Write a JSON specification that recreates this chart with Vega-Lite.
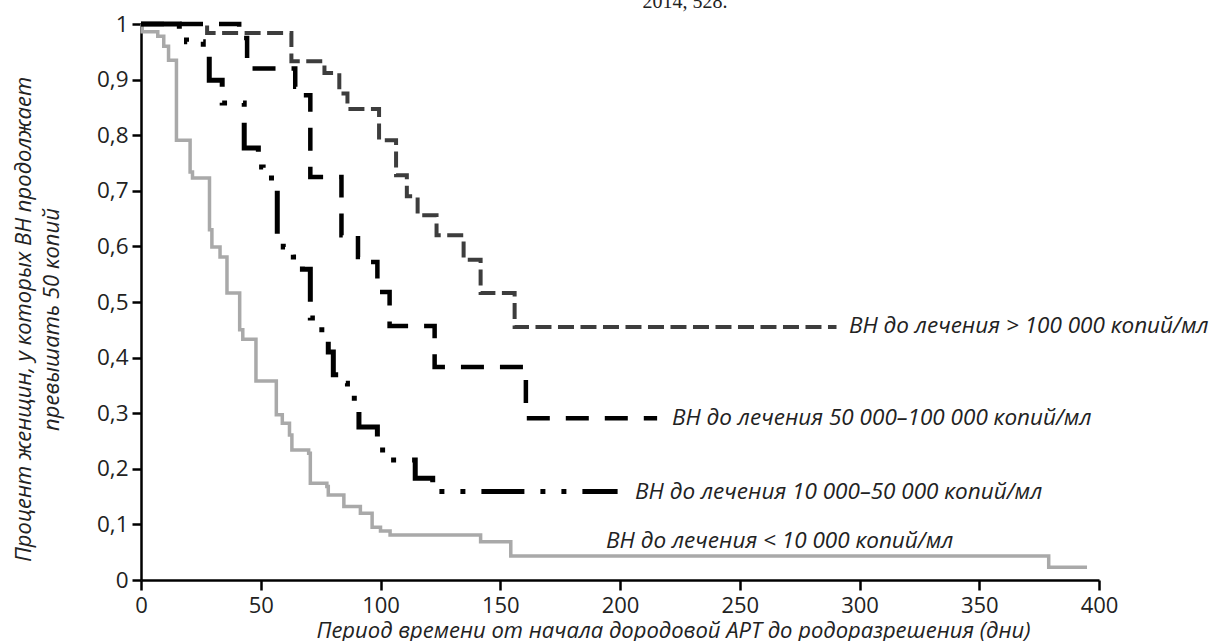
{
  "$schema": "https://vega.github.io/schema/vega-lite/v6.json",
  "autosize": {"type": "none"},
  "padding": {"left": 141, "top": 24, "right": 115, "bottom": 61},
  "width": 958,
  "height": 556,
  "background": "white",
  "config": {"view": {"stroke": null}},
  "datasets": {
    "curves": [
      {"g": "lt10", "d": 0, "v": 1.0}, {"g": "lt10", "d": 0.5, "v": 0.986}, {"g": "lt10", "d": 7, "v": 0.978}, {"g": "lt10", "d": 9.5, "v": 0.96}, {"g": "lt10", "d": 11.5, "v": 0.935}, {"g": "lt10", "d": 14.8, "v": 0.791}, {"g": "lt10", "d": 20.5, "v": 0.734}, {"g": "lt10", "d": 21.5, "v": 0.723}, {"g": "lt10", "d": 28.6, "v": 0.63}, {"g": "lt10", "d": 29.6, "v": 0.599}, {"g": "lt10", "d": 33, "v": 0.581}, {"g": "lt10", "d": 35.9, "v": 0.516}, {"g": "lt10", "d": 41.2, "v": 0.45}, {"g": "lt10", "d": 42.5, "v": 0.433}, {"g": "lt10", "d": 48, "v": 0.358}, {"g": "lt10", "d": 56.5, "v": 0.297}, {"g": "lt10", "d": 59, "v": 0.282}, {"g": "lt10", "d": 62, "v": 0.261}, {"g": "lt10", "d": 63, "v": 0.234}, {"g": "lt10", "d": 70, "v": 0.228}, {"g": "lt10", "d": 70.7, "v": 0.174}, {"g": "lt10", "d": 77.6, "v": 0.168}, {"g": "lt10", "d": 78.2, "v": 0.153}, {"g": "lt10", "d": 84.7, "v": 0.132}, {"g": "lt10", "d": 91.6, "v": 0.12}, {"g": "lt10", "d": 96.5, "v": 0.095}, {"g": "lt10", "d": 100, "v": 0.088}, {"g": "lt10", "d": 104, "v": 0.081}, {"g": "lt10", "d": 141.8, "v": 0.069}, {"g": "lt10", "d": 154.4, "v": 0.043}, {"g": "lt10", "d": 379, "v": 0.023}, {"g": "lt10", "d": 395, "v": 0.023},
      {"g": "gt100", "d": 0, "v": 1.0}, {"g": "gt100", "d": 27.6, "v": 0.984}, {"g": "gt100", "d": 62.8, "v": 0.933}, {"g": "gt100", "d": 76.6, "v": 0.912}, {"g": "gt100", "d": 82.8, "v": 0.875}, {"g": "gt100", "d": 86.2, "v": 0.847}, {"g": "gt100", "d": 99.4, "v": 0.791}, {"g": "gt100", "d": 106.5, "v": 0.728}, {"g": "gt100", "d": 111, "v": 0.69}, {"g": "gt100", "d": 115.5, "v": 0.656}, {"g": "gt100", "d": 123.4, "v": 0.62}, {"g": "gt100", "d": 134.7, "v": 0.576}, {"g": "gt100", "d": 141.8, "v": 0.516}, {"g": "gt100", "d": 156, "v": 0.455}, {"g": "gt100", "d": 290.4, "v": 0.455},
      {"g": "50-100", "d": 0, "v": 1.0}, {"g": "50-100", "d": 41, "v": 0.975}, {"g": "50-100", "d": 44.3, "v": 0.92}, {"g": "50-100", "d": 64.4, "v": 0.887}, {"g": "50-100", "d": 66, "v": 0.872}, {"g": "50-100", "d": 70.7, "v": 0.725}, {"g": "50-100", "d": 83.7, "v": 0.62}, {"g": "50-100", "d": 90.6, "v": 0.581}, {"g": "50-100", "d": 93.5, "v": 0.572}, {"g": "50-100", "d": 98.7, "v": 0.518}, {"g": "50-100", "d": 103.8, "v": 0.457}, {"g": "50-100", "d": 122.6, "v": 0.383}, {"g": "50-100", "d": 160.7, "v": 0.291}, {"g": "50-100", "d": 215.5, "v": 0.291},
      {"g": "10-50", "d": 0, "v": 1.0}, {"g": "10-50", "d": 16, "v": 0.99}, {"g": "10-50", "d": 19, "v": 0.968}, {"g": "10-50", "d": 26, "v": 0.951}, {"g": "10-50", "d": 28.5, "v": 0.899}, {"g": "10-50", "d": 33.9, "v": 0.858}, {"g": "10-50", "d": 43.1, "v": 0.777}, {"g": "10-50", "d": 49, "v": 0.743}, {"g": "10-50", "d": 51, "v": 0.723}, {"g": "10-50", "d": 56.9, "v": 0.612}, {"g": "10-50", "d": 59.4, "v": 0.599}, {"g": "10-50", "d": 63.6, "v": 0.581}, {"g": "10-50", "d": 67.4, "v": 0.559}, {"g": "10-50", "d": 70.7, "v": 0.471}, {"g": "10-50", "d": 74, "v": 0.466}, {"g": "10-50", "d": 75.5, "v": 0.439}, {"g": "10-50", "d": 78.2, "v": 0.41}, {"g": "10-50", "d": 80.3, "v": 0.369}, {"g": "10-50", "d": 82.8, "v": 0.354}, {"g": "10-50", "d": 86.2, "v": 0.327}, {"g": "10-50", "d": 91, "v": 0.275}, {"g": "10-50", "d": 98.7, "v": 0.234}, {"g": "10-50", "d": 103.8, "v": 0.216}, {"g": "10-50", "d": 114.5, "v": 0.183}, {"g": "10-50", "d": 121.8, "v": 0.159}, {"g": "10-50", "d": 199, "v": 0.159}
    ],
    "labels": [
      {"d": 295.6, "v": 0.445, "t": "ВН до лечения > 100 000 копий/мл"},
      {"d": 221.7, "v": 0.279, "t": "ВН до лечения 50 000–100 000 копий/мл"},
      {"d": 206.3, "v": 0.146, "t": "ВН до лечения 10 000–50 000 копий/мл"},
      {"d": 194.2, "v": 0.0575, "t": "ВН до лечения < 10 000 копий/мл"}
    ],
    "source": [
      {"d": 227.1, "v": 1.0288, "t": "2014, 528."}
    ]
  },
  "encoding": {
    "x": {
      "field": "d", "type": "quantitative",
      "scale": {"domain": [0, 400], "nice": false},
      "axis": {
        "values": [0, 50, 100, 150, 200, 250, 300, 350, 400],
        "title": "Период времени от начала дородовой АРТ до родоразрешения (дни)",
        "titleX": 532, "titleY": 57, "titleBaseline": "alphabetic", "titleAlign": "center",
        "titleFont": "Open Sans", "titleFontSize": 22, "titleFontStyle": "italic", "titleFontWeight": "normal", "titleColor": "#222",
        "labelFont": "Open Sans", "labelFontSize": 22, "labelColor": "#222", "labelPadding": 5,
        "labelFlush": false, "labelOverlap": false,
        "tickSize": 10, "tickWidth": 2.5, "tickColor": "#000",
        "domainColor": "#000", "domainWidth": 2.5, "grid": false
      }
    },
    "y": {
      "field": "v", "type": "quantitative",
      "scale": {"domain": [0, 1], "nice": false},
      "axis": {
        "values": [0, 0.1, 0.2, 0.3, 0.4, 0.5, 0.6, 0.7, 0.8, 0.9, 1],
        "format": ".1~f",
        "labelExpr": "replace(datum.label, '.', ',')",
        "title": ["Процент женщин, у которых ВН продолжает", "превышать 50 копий"],
        "titleX": -111, "titleY": 295, "titleBaseline": "alphabetic", "titleAlign": "center", "titleAngle": -90, "titleLineHeight": 28,
        "titleFont": "Open Sans", "titleFontSize": 22, "titleFontStyle": "italic", "titleFontWeight": "normal", "titleColor": "#222",
        "labelFont": "Open Sans", "labelFontSize": 22.5, "labelColor": "#222", "labelPadding": 4,
        "labelFlush": false, "labelOverlap": false,
        "tickSize": 9, "tickWidth": 2.5, "tickColor": "#000",
        "domainColor": "#000", "domainWidth": 2.5, "grid": false
      }
    }
  },
  "layer": [
    {
      "data": {"name": "curves"},
      "transform": [{"filter": "datum.g === 'lt10'"}],
      "mark": {"type": "line", "interpolate": "step-after", "stroke": "#a9a9a9", "strokeWidth": 3.5, "strokeCap": "butt", "strokeJoin": "miter"}
    },
    {
      "data": {"name": "curves"},
      "transform": [{"filter": "datum.g === 'gt100'"}],
      "mark": {"type": "line", "interpolate": "step-after", "stroke": "#3d3d3d", "strokeWidth": 4, "strokeDash": [16, 6.5], "strokeCap": "butt", "strokeJoin": "miter"}
    },
    {
      "data": {"name": "curves"},
      "transform": [{"filter": "datum.g === '50-100'"}],
      "mark": {"type": "line", "interpolate": "step-after", "stroke": "#000", "strokeWidth": 4.5, "strokeDash": [23, 16], "strokeCap": "butt", "strokeJoin": "miter"}
    },
    {
      "data": {"name": "curves"},
      "transform": [{"filter": "datum.g === '10-50'"}],
      "mark": {"type": "line", "interpolate": "step-after", "stroke": "#000", "strokeWidth": 5, "strokeDash": [43, 16, 5, 16, 5, 16], "strokeCap": "butt", "strokeJoin": "miter"}
    },
    {
      "data": {"name": "labels"},
      "mark": {"type": "text", "align": "left", "baseline": "alphabetic", "font": "Open Sans", "fontSize": 22.5, "fontStyle": "italic", "fill": "#222"},
      "encoding": {"text": {"field": "t"}}
    },
    {
      "data": {"name": "source"},
      "mark": {"type": "text", "align": "center", "baseline": "alphabetic", "font": "Liberation Serif", "fontSize": 20, "fill": "#222", "clip": false},
      "encoding": {"text": {"field": "t"}}
    }
  ]
}
